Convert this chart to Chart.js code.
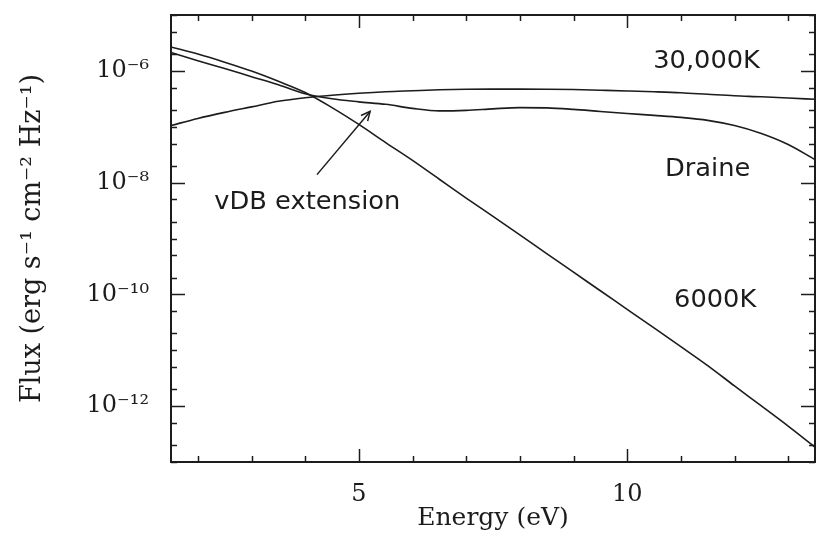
<!DOCTYPE html>
<html>
<head>
<meta charset="utf-8">
<title>Flux vs Energy</title>
<script src="https://cdn.jsdelivr.net/npm/chart.js@4.4.1/dist/chart.umd.min.js"></script>
<style>
    html, body { margin: 0; padding: 0; background: #fff; }
    #wrap { width: 816px; height: 536px; }
</style>
</head>
<body>
<div id="wrap"><canvas id="fluxChart" width="816" height="536"></canvas></div>
<script>
/**
 * Values (energy in eV, flux in erg s-1 cm-2 Hz-1)
 **/
var energy = [1.5, 2, 2.5, 3, 3.5, 4, 4.5, 5, 5.5, 6, 6.5, 7, 7.5, 8, 8.5, 9, 9.5, 10, 10.5, 11, 11.5, 12, 12.5, 13, 13.5];

var flux6000 = [2.67e-6, 2.0e-6, 1.43e-6, 9.9e-7, 6.5e-7, 4.1e-7, 2.2e-7, 1.1e-7, 5.2e-8, 2.5e-8,
    1.15e-8, 5.3e-9, 2.49e-9, 1.16e-9, 5.37e-10, 2.5e-10, 1.16e-10, 5.4e-11, 2.51e-11, 1.16e-11,
    5.31e-12, 2.3e-12, 1.01e-12, 4.4e-13, 1.85e-13];

var fluxDraine = [2.14e-6, 1.52e-6, 1.10e-6, 7.87e-7, 5.65e-7, 3.89e-7, 3.16e-7, 2.79e-7, 2.52e-7, 2.13e-7,
    1.92e-7, 1.96e-7, 2.09e-7, 2.20e-7, 2.18e-7, 2.05e-7, 1.88e-7, 1.73e-7, 1.60e-7, 1.47e-7,
    1.30e-7, 1.05e-7, 7.57e-8, 4.81e-8, 2.58e-8];

var flux30000 = [1.05e-7, 1.41e-7, 1.81e-7, 2.27e-7, 2.85e-7, 3.30e-7, 3.66e-7, 3.97e-7, 4.23e-7, 4.41e-7,
    4.59e-7, 4.69e-7, 4.72e-7, 4.72e-7, 4.69e-7, 4.63e-7, 4.50e-7, 4.37e-7, 4.23e-7, 4.06e-7,
    3.81e-7, 3.58e-7, 3.44e-7, 3.26e-7, 3.10e-7];

var seriesNames = ['6000K', 'Draine', '30,000K'];

var xTickValues = [5, 10];
var xTickLabels = ['5', '10'];
var yTickValues = [1e-12, 1e-10, 1e-8, 1e-6];
var yTickLabels = ['10\u207B\u00B9\u00B2', '10\u207B\u00B9\u2070', '10\u207B\u2078', '10\u207B\u2076'];
var yMinorMantissas = [1, 2, 5];

var xTitle = 'Energy (eV)';
var yTitle = 'Flux (erg s\u207B\u00B9 cm\u207B\u00B2 Hz\u207B\u00B9)';

/* in-plot labels, anchored in data coordinates */
var curveNotes = [
    { text: '30,000K', x: 11.48, y: 1.43e-6 },
    { text: 'Draine', x: 11.5, y: 1.7e-8 },
    { text: '6000K', x: 11.64, y: 7.8e-11 },
    { text: 'vDB extension', x: 4.04, y: 4.4e-9 }
];
var arrowFrom = { x: 4.22, y: 1.39e-8 };
var arrowTo = { x: 5.21, y: 1.88e-7 };

var ink = '#1c1c1c';

function toPoints(ys) {
    var pts = [];
    for (var i = 0; i < energy.length; i++) {
        pts.push({ x: energy[i], y: ys[i] });
    }
    return pts;
}

function sameValue(a, b) {
    return Math.abs(Math.log10(a) - Math.log10(b)) < 1e-6;
}

/**
 * Draws the box, inward ticks on all four sides, curve labels and the arrow
 **/
var framePlugin = {
    id: 'frame',
    afterDatasetsDraw: function (chart) {
        var ctx = chart.ctx;
        var area = chart.chartArea;
        var xs = chart.scales.x;
        var ys = chart.scales.y;

        function seg(x1, y1, x2, y2) {
            ctx.beginPath();
            ctx.moveTo(x1, y1);
            ctx.lineTo(x2, y2);
            ctx.stroke();
        }

        ctx.save();
        ctx.strokeStyle = ink;
        ctx.lineWidth = 2;
        ctx.strokeRect(area.left, area.top, area.right - area.left, area.bottom - area.top);

        ctx.lineWidth = 1.5;
        // x ticks every 1 eV, long ones where labelled
        for (var v = Math.ceil(xs.min); v <= xs.max; v++) {
            var px = Math.round(xs.getPixelForValue(v)) + 0.5;
            var len = xTickValues.indexOf(v) >= 0 ? 13 : 6;
            seg(px, area.bottom, px, area.bottom - len);
            seg(px, area.top, px, area.top + len);
        }
        // y ticks at 1, 2, 5 per decade
        var kMin = Math.floor(Math.log10(ys.min));
        var kMax = Math.ceil(Math.log10(ys.max));
        for (var k = kMin; k <= kMax; k++) {
            for (var m = 0; m < yMinorMantissas.length; m++) {
                var val = yMinorMantissas[m] * Math.pow(10, k);
                if (val < ys.min * 0.999 || val > ys.max * 1.001) continue;
                var py = Math.round(ys.getPixelForValue(val)) + 0.5;
                var major = false;
                for (var t = 0; t < yTickValues.length; t++) {
                    if (sameValue(val, yTickValues[t])) major = true;
                }
                var ylen = major ? 14 : 6;
                seg(area.left, py, area.left + ylen, py);
                seg(area.right, py, area.right - ylen, py);
            }
        }

        // curve labels
        ctx.fillStyle = ink;
        ctx.font = '24px "DejaVu Sans"';
        ctx.textAlign = 'center';
        ctx.textBaseline = 'middle';
        curveNotes.forEach(function (note) {
            ctx.save();
            ctx.translate(xs.getPixelForValue(note.x), ys.getPixelForValue(note.y));
            ctx.scale(1.07, 1);
            ctx.fillText(note.text, 0, 0);
            ctx.restore();
        });

        // arrow to the vDB extension
        var ax = xs.getPixelForValue(arrowFrom.x);
        var ay = ys.getPixelForValue(arrowFrom.y);
        var bx = xs.getPixelForValue(arrowTo.x);
        var by = ys.getPixelForValue(arrowTo.y);
        ctx.lineWidth = 1.5;
        seg(ax, ay, bx, by);
        var ang = Math.atan2(by - ay, bx - ax);
        var head = 10;
        ctx.beginPath();
        ctx.moveTo(bx - head * Math.cos(ang - 0.45), by - head * Math.sin(ang - 0.45));
        ctx.lineTo(bx, by);
        ctx.lineTo(bx - head * Math.cos(ang + 0.45), by - head * Math.sin(ang + 0.45));
        ctx.stroke();

        ctx.restore();
    }
};

var ctxFlux = document.getElementById('fluxChart');
var fluxChart = new Chart(ctxFlux, {
    type: 'line',
    data: {
        datasets: [
            { label: seriesNames[0], data: toPoints(flux6000) },
            { label: seriesNames[1], data: toPoints(fluxDraine) },
            { label: seriesNames[2], data: toPoints(flux30000) }
        ].map(function (ds) {
            ds.borderColor = ink;
            ds.borderWidth = 1.6;
            ds.pointRadius = 0;
            ds.fill = false;
            ds.cubicInterpolationMode = 'monotone';
            return ds;
        })
    },
    options: {
        responsive: false,
        animation: false,
        devicePixelRatio: 1,
        layout: { padding: { left: 0, right: 1, top: 15, bottom: 0 } },
        plugins: {
            legend: { display: false },
            tooltip: { enabled: false }
        },
        scales: {
            x: {
                type: 'linear',
                min: 1.5,
                max: 13.5,
                grid: { display: false },
                border: { display: false },
                afterBuildTicks: function (scale) {
                    scale.ticks = xTickValues.map(function (v) { return { value: v }; });
                },
                afterFit: function (scale) {
                    scale.height = 74;
                    scale.paddingLeft = 0;
                    scale.paddingRight = 0;
                },
                ticks: {
                    color: ink,
                    padding: 10,
                    maxRotation: 0,
                    font: { family: '"DejaVu Serif"', size: 24 },
                    callback: function (value) {
                        var i = xTickValues.indexOf(value);
                        return i >= 0 ? xTickLabels[i] : '';
                    }
                },
                title: {
                    display: true,
                    text: xTitle,
                    color: ink,
                    padding: { top: 0, bottom: 3 },
                    font: { family: '"DejaVu Serif"', size: 25 }
                }
            },
            y: {
                type: 'logarithmic',
                min: 1e-13,
                max: 1e-5,
                grid: { display: false },
                border: { display: false },
                afterBuildTicks: function (scale) {
                    scale.ticks = yTickValues.map(function (v) { return { value: v }; });
                },
                afterFit: function (scale) {
                    scale.width = 171;
                    scale.paddingTop = 0;
                    scale.paddingBottom = 0;
                },
                ticks: {
                    color: ink,
                    padding: 14,
                    font: { family: '"DejaVu Serif"', size: 24 },
                    callback: function (value) {
                        for (var i = 0; i < yTickValues.length; i++) {
                            if (sameValue(value, yTickValues[i])) return yTickLabels[i];
                        }
                        return '';
                    }
                },
                title: {
                    display: true,
                    text: yTitle,
                    color: ink,
                    padding: { top: 17, bottom: 0 },
                    font: { family: '"DejaVu Serif"', size: 27 }
                }
            }
        }
    },
    plugins: [framePlugin]
});
</script>
</body>
</html>
